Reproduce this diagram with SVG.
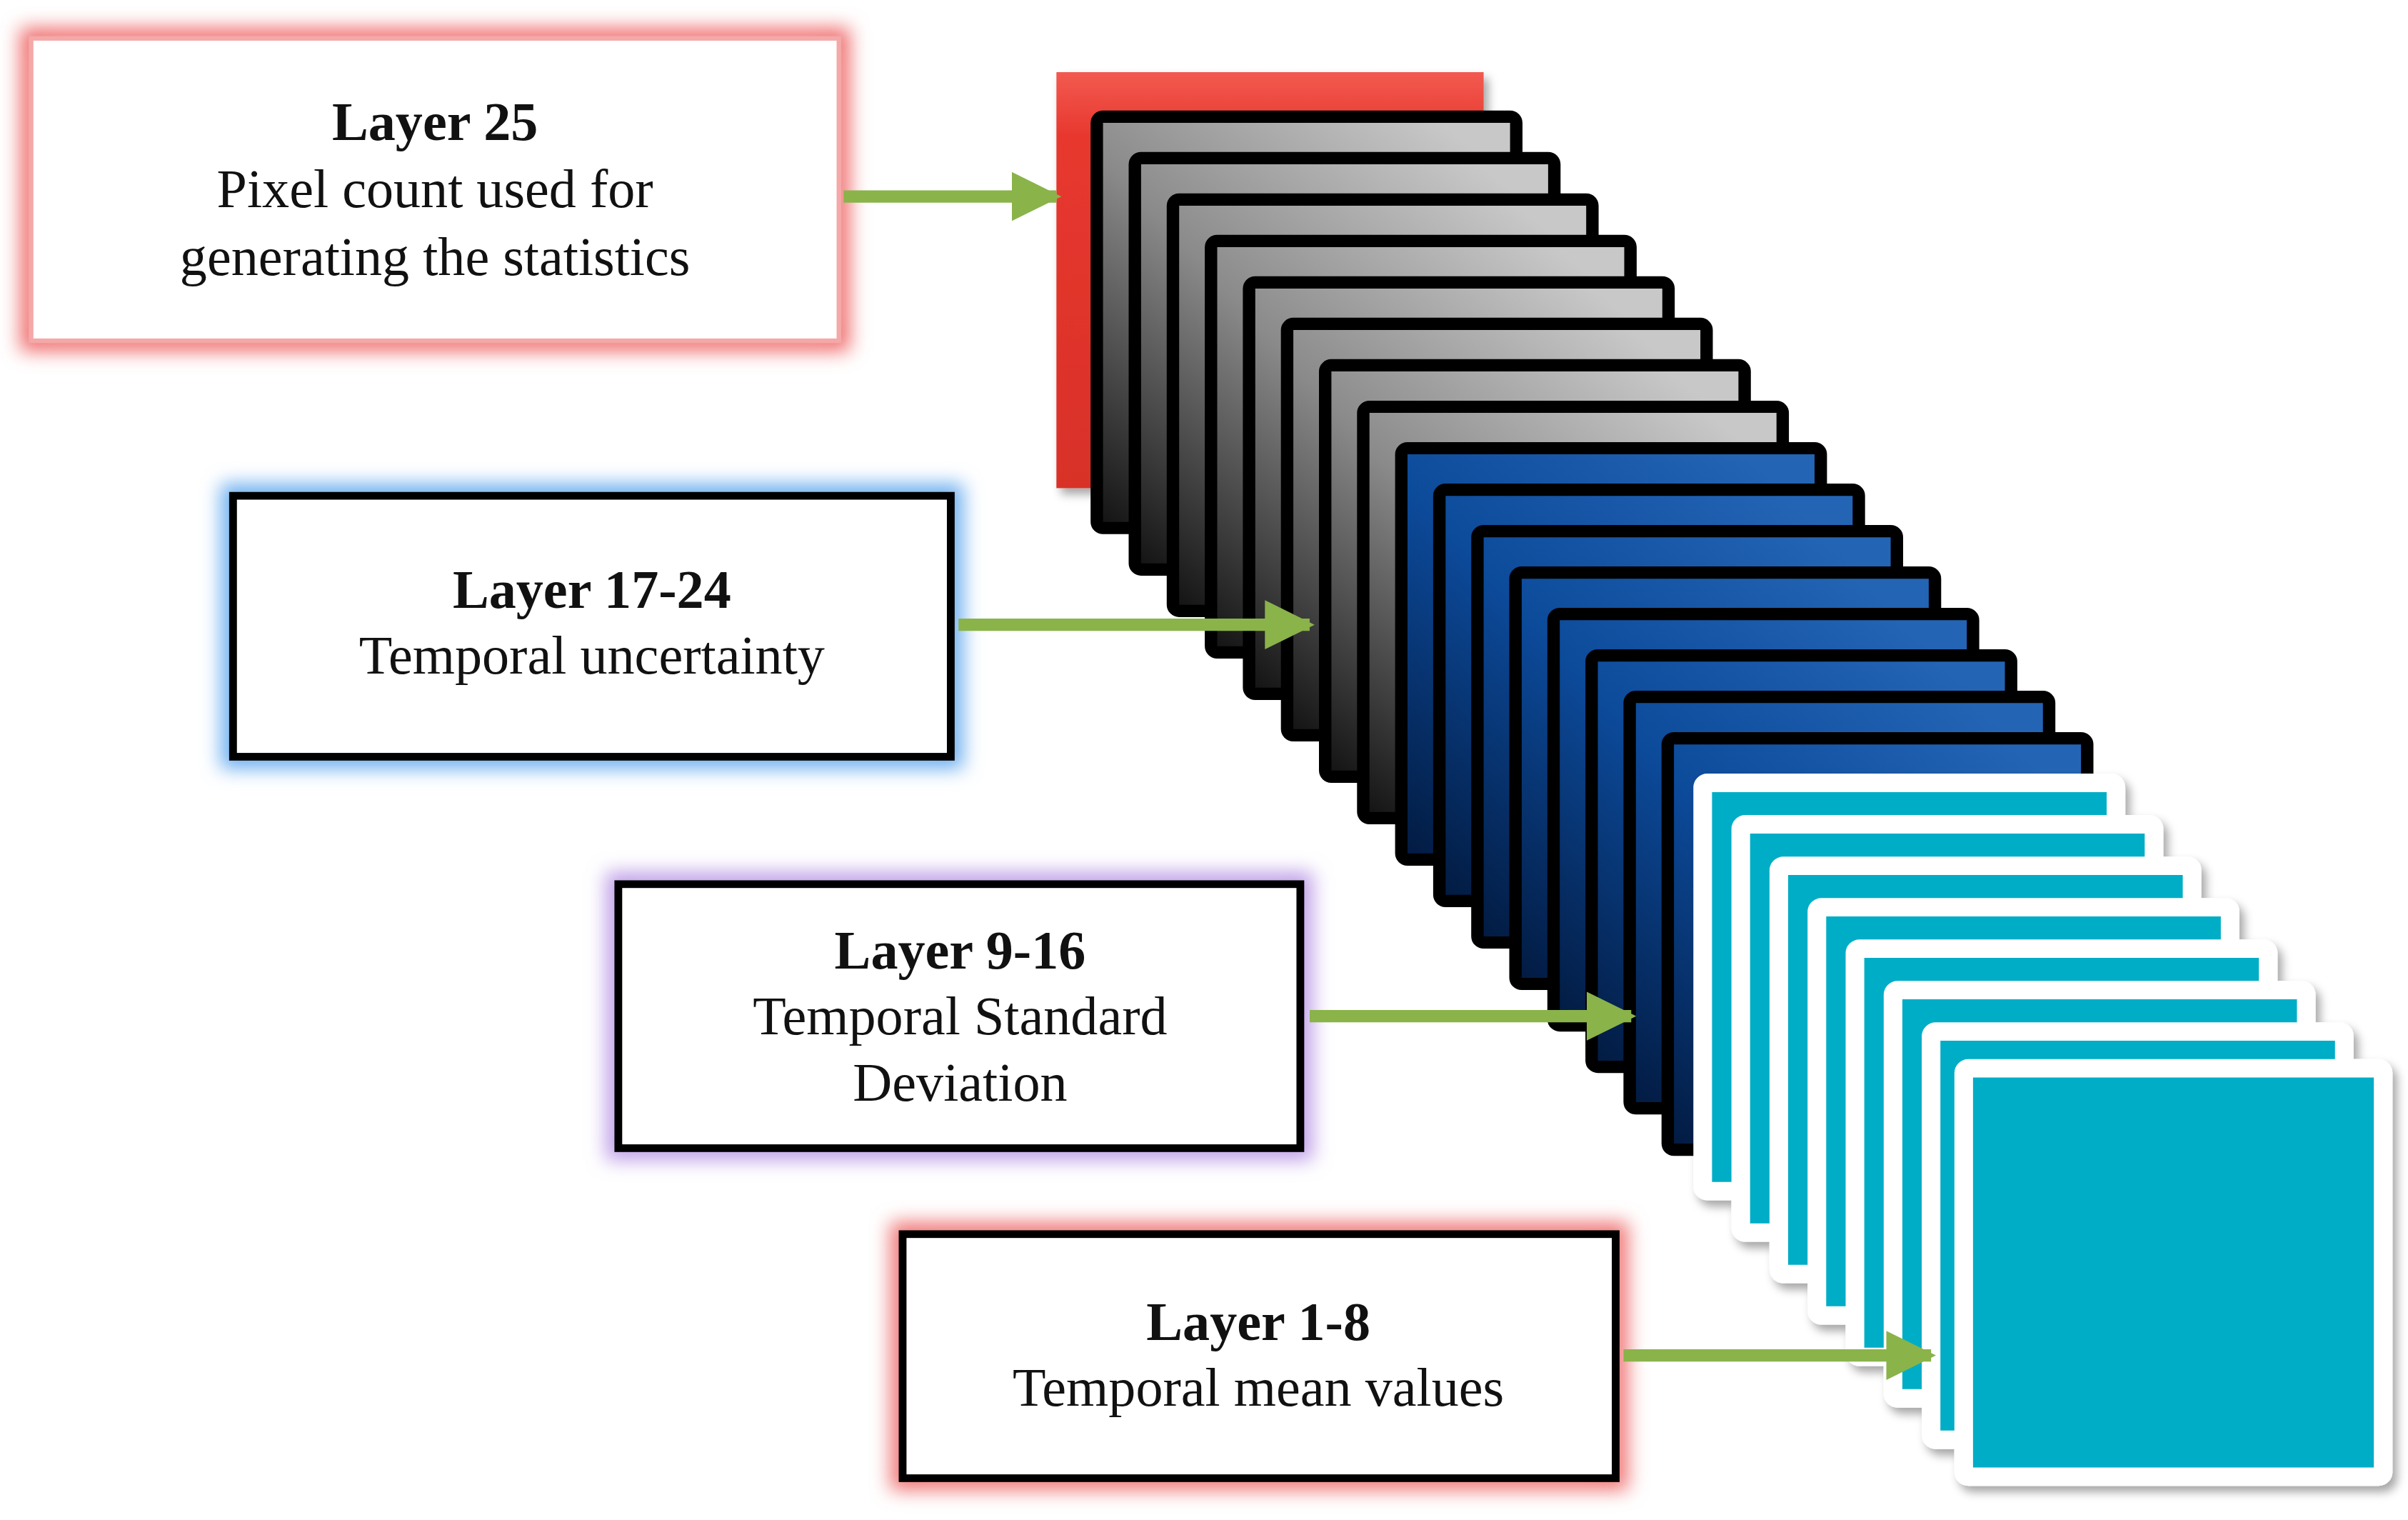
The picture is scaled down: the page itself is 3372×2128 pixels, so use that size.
<svg xmlns="http://www.w3.org/2000/svg" width="3372" height="2128" viewBox="0 0 3372 2128">
<defs>
<style>
.t{font-family:"Liberation Serif","DejaVu Serif",serif;font-size:35px;fill:#111;text-anchor:middle}
.b{font-weight:bold}
.arr{stroke:#8ab34a;stroke-width:8;fill:none}
</style>
<filter id="glow" x="-20%" y="-30%" width="140%" height="160%"><feGaussianBlur stdDeviation="6"/></filter>
<filter id="sh" x="-10%" y="-10%" width="130%" height="130%"><feDropShadow dx="3" dy="4" stdDeviation="3" flood-color="#000" flood-opacity="0.35"/></filter>
<linearGradient id="red" x1="0" y1="0" x2="0" y2="1"><stop offset="0" stop-color="#f25a50"/><stop offset="0.15" stop-color="#e8382f"/><stop offset="1" stop-color="#d83028"/></linearGradient>
<linearGradient id="gray" x1="0.8" y1="0" x2="0" y2="1"><stop offset="0" stop-color="#c8c8c8"/><stop offset="0.45" stop-color="#8a8a8a"/><stop offset="1" stop-color="#111"/></linearGradient>
<linearGradient id="blue" x1="0.8" y1="0" x2="0" y2="1"><stop offset="0" stop-color="#2464b4"/><stop offset="0.45" stop-color="#0c4a9a"/><stop offset="1" stop-color="#021a40"/></linearGradient>
<marker id="ah" viewBox="0 0 10 10" refX="9" refY="5" markerWidth="4" markerHeight="4" orient="auto" markerUnits="strokeWidth"><path d="M0,0 L10,5 L0,10 z" fill="#8ab34a"/></marker>
</defs>
<rect width="3372" height="2128" fill="#fff"/>
<g transform="scale(2.1755,2.149)">
<g id="stack">
<rect x="680" y="47" width="275" height="271" fill="url(#red)" filter="url(#sh)"/>
<g id="gray-layers" stroke="#000" stroke-width="8" fill="url(#gray)">
<rect x="706" y="76" width="270" height="268" rx="4"/>
<rect x="730.5" y="103" width="270" height="268" rx="4"/>
<rect x="755" y="130" width="270" height="268" rx="4"/>
<rect x="779.5" y="157" width="270" height="268" rx="4"/>
<rect x="804" y="184" width="270" height="268" rx="4"/>
<rect x="828.5" y="211" width="270" height="268" rx="4"/>
<rect x="853" y="238" width="270" height="268" rx="4"/>
<rect x="877.5" y="265" width="270" height="268" rx="4"/>
</g>
<g id="blue-layers" stroke="#000" stroke-width="8" fill="url(#blue)">
<rect x="902" y="292" width="270" height="268" rx="4"/>
<rect x="926.5" y="319" width="270" height="268" rx="4"/>
<rect x="951" y="346" width="270" height="268" rx="4"/>
<rect x="975.5" y="373" width="270" height="268" rx="4"/>
<rect x="1000" y="400" width="270" height="268" rx="4"/>
<rect x="1024.5" y="427" width="270" height="268" rx="4"/>
<rect x="1049" y="454" width="270" height="268" rx="4"/>
<rect x="1073.5" y="481" width="270" height="268" rx="4"/>
</g>
<g id="cyan-layers" stroke="#fff" stroke-width="12" fill="#00adc6" filter="url(#sh)">
<rect x="1096" y="510" width="266" height="266" rx="3"/>
<rect x="1120.5" y="537" width="266" height="266" rx="3"/>
<rect x="1145" y="564" width="266" height="266" rx="3"/>
<rect x="1169.5" y="591" width="266" height="266" rx="3"/>
<rect x="1194" y="618" width="266" height="266" rx="3"/>
<rect x="1218.5" y="645" width="266" height="266" rx="3"/>
<rect x="1243" y="672" width="266" height="266" rx="3"/>
<rect x="1264" y="696" width="270" height="266" rx="3"/>
</g>
</g>
<g id="box25">
<rect x="20" y="25" width="520" height="197" fill="none" stroke="#f07070" stroke-width="14" filter="url(#glow)"/>
<rect x="20" y="25" width="520" height="197" fill="#fff" stroke="#f4a8a8" stroke-width="3"/>
<text class="t b" x="280" y="91">Layer 25</text>
<text class="t" x="280" y="135">Pixel count used for</text>
<text class="t" x="280" y="179">generating the statistics</text>
</g>
<g id="box17">
<rect x="150" y="323" width="462" height="170" fill="none" stroke="#70b0f0" stroke-width="16" filter="url(#glow)"/>
<rect x="150" y="323" width="462" height="170" fill="#fff" stroke="#000" stroke-width="5"/>
<text class="t b" x="381" y="396">Layer 17-24</text>
<text class="t" x="381" y="439">Temporal uncertainty</text>
</g>
<g id="box9">
<rect x="398" y="576" width="439" height="172" fill="none" stroke="#c0a0e8" stroke-width="16" filter="url(#glow)"/>
<rect x="398" y="576" width="439" height="172" fill="#fff" stroke="#000" stroke-width="5"/>
<text class="t b" x="618" y="631">Layer 9-16</text>
<text class="t" x="618" y="674">Temporal Standard</text>
<text class="t" x="618" y="717">Deviation</text>
</g>
<g id="box1">
<rect x="581" y="804" width="459" height="159" fill="none" stroke="#f07878" stroke-width="16" filter="url(#glow)"/>
<rect x="581" y="804" width="459" height="159" fill="#fff" stroke="#000" stroke-width="5"/>
<text class="t b" x="810" y="873">Layer 1-8</text>
<text class="t" x="810" y="916">Temporal mean values</text>
</g>
<g id="connectors">
<line class="arr" x1="543" y1="128" x2="680" y2="128" marker-end="url(#ah)"/>
<line class="arr" x1="617" y1="407" x2="843" y2="407" marker-end="url(#ah)"/>
<line class="arr" x1="843" y1="662" x2="1050" y2="662" marker-end="url(#ah)"/>
<line class="arr" x1="1045" y1="883" x2="1243" y2="883" marker-end="url(#ah)"/>
</g>
</g>
</svg>
